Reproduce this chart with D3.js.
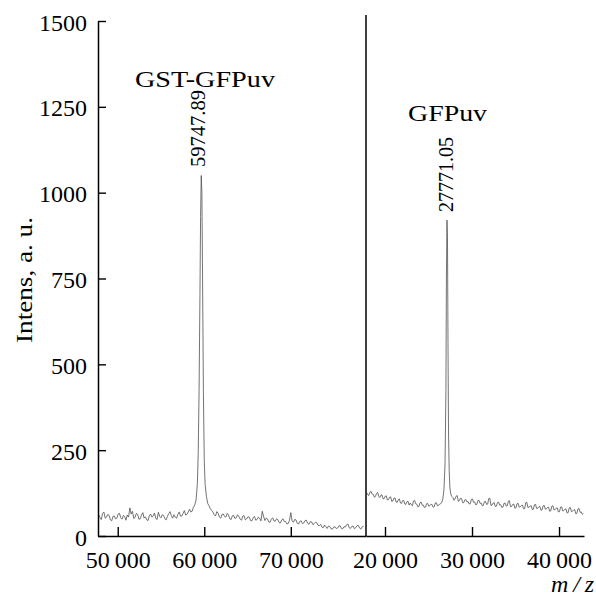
<!DOCTYPE html>
<html>
<head>
<meta charset="utf-8">
<script src="https://cdn.jsdelivr.net/npm/d3@7"></script>
<style>
  body { margin: 0; background: #fff; }
</style>
</head>
<body>
<script>
// GST-GFPuv spectrum (left panel)
var leftMz = [
  47800,47950,48100,48250,48400,48550,48700,48850,49000,49150,
  49300,49450,49600,49750,49900,50050,50200,50350,50500,50650,
  50800,50950,51100,51250,51400,51550,51700,51850,52000,52150,
  52300,52450,52600,52750,52900,53050,53200,53350,53500,53650,
  53800,53950,54100,54250,54400,54550,54700,54850,55000,55150,
  55300,55450,55600,55750,55900,56050,56200,56350,56500,56650,
  56800,56950,57100,57250,57400,57550,57700,57850,58000,58150,
  58300,58450,58600,
  58750,58900,59050,59200,59300,59400,59500,59575,59650,59725,59800,59900,60000,60100,60250,60400,60550,60700,60850,
  61000,61150,61300,61450,61600,61750,61900,62050,62200,62350,
  62500,62650,62800,62950,63100,63250,63400,63550,63700,63850,
  64000,64150,64300,64450,64600,64750,64900,65050,65200,65350,
  65500,65650,65800,65950,66100,66250,66400,66550,66700,66850,
  67000,67150,67300,67450,67600,67750,67900,68050,68200,68350,
  68500,68650,68800,68950,69100,69250,69400,69550,69700,69850,
  70000,70150,70300,70450,70600,70750,70900,71050,71200,71350,
  71500,71650,71800,71950,72100,72250,72400,72550,72700,72850,
  73000,73150,73300,73450,73600,73750,73900,74050,74200,74350,
  74500,74650,74800,74950,75100,75250,75400,75550,75700,75850,
  76000,76150,76300,76450,76600,76750,76900,77050,77200,77350,
  77500,77650,77800,77950,78100,78250,78400];
var leftIntens = [
  62,54,48,66,70,52,55,63,60,47,
  44,57,58,50,52,64,66,53,49,60,
  57,46,61,55,82,64,72,51,54,66,
  63,49,50,61,68,52,56,47,45,59,
  64,55,58,67,51,48,69,57,53,62,
  60,50,47,58,65,71,59,52,62,55,
  52,63,70,58,58,66,74,61,63,70,
  78,70,72,
  84,90,105,150,240,420,700,930,1050,1000,760,420,220,150,115,95,88,80,74,
  70,62,58,71,66,55,52,63,64,57,
  55,66,61,50,48,59,60,51,53,62,
  57,49,46,58,59,47,50,56,55,45,
  44,53,57,46,48,55,52,44,72,58,
  45,52,50,41,40,49,53,44,43,50,
  48,39,38,47,50,42,42,35,36,46,
  68,44,40,48,47,37,35,43,44,36,
  38,45,46,37,34,42,41,33,36,40,
  39,31,30,34,26,24,32,27,22,29,
  28,21,20,26,27,22,23,29,30,22,
  21,27,26,33,35,24,22,28,29,21,
  24,30,31,23,20,27,28];

// GFPuv spectrum (right panel)
var rightMz = [
  17900,18025,18150,18275,18400,18525,18650,18775,18900,19025,
  19150,19275,19400,19525,19650,19775,19900,20025,20150,20275,
  20400,20525,20650,20775,20900,21025,21150,21275,21400,21525,
  21650,21775,21900,22025,22150,22275,22400,22525,22650,22775,
  22900,23025,23150,23275,23400,23525,23650,23775,23900,24025,
  24150,24275,24400,24525,24650,24775,24900,25025,25150,25275,
  25400,25525,25650,25775,25900,26025,26150,26275,26400,
  26525,26650,26775,26900,27000,27060,27120,27180,27240,27300,27380,27460,27560,27680,
  27800,27925,28050,28175,28300,28425,28550,28675,28800,28925,
  29050,29175,29300,29425,29550,29675,29800,29925,30050,30175,
  30300,30425,30550,30675,30800,30925,31050,31175,31300,31425,
  31550,31675,31800,31925,32050,32175,32300,32425,32550,32675,
  32800,32925,33050,33175,33300,33425,33550,33675,33800,33925,
  34050,34175,34300,34425,34550,34675,34800,34925,35050,35175,
  35300,35425,35550,35675,35800,35925,36050,36175,36300,36425,
  36550,36675,36800,36925,37050,37175,37300,37425,37550,37675,
  37800,37925,38050,38175,38300,38425,38550,38675,38800,38925,
  39050,39175,39300,39425,39550,39675,39800,39925,40050,40175,
  40300,40425,40550,40675,40800,40925,41050,41175,41300,41425,
  41550,41675,41800,41925,42050,42175,42300,42425,42550,42675,
  42800];
var rightIntens = [
  126,120,118,128,130,122,121,113,115,124,
  127,116,112,119,120,108,109,116,117,105,
  106,113,114,101,102,110,111,99,98,106,
  108,96,95,103,104,93,92,100,101,90,
  96,91,88,102,104,94,93,85,86,97,
  99,90,90,83,84,94,95,87,88,92,
  92,84,85,96,97,88,89,93,94,
  98,108,135,210,420,760,920,870,560,300,190,140,122,115,
  112,104,108,116,118,101,103,110,109,97,
  97,105,106,99,100,93,94,107,108,98,
  99,91,92,103,104,95,96,88,89,100,
  101,92,93,109,110,89,90,96,97,86,
  87,97,99,90,91,83,84,95,96,87,
  88,101,103,85,86,92,93,81,82,94,
  95,84,85,89,90,79,80,97,98,83,
  84,87,88,77,78,91,92,80,81,85,
  86,75,76,88,89,78,79,83,84,72,
  73,87,88,76,77,81,82,70,71,84,
  85,73,74,78,79,67,68,82,83,71,
  72,76,77,65,66,79,80,69,70,63,
  66];

var yTicks = [0, 250, 500, 750, 1000, 1250, 1500];
var leftTicks = [50000, 60000, 70000];
var rightTicks = [20000, 30000, 40000];
var peakLabels = ["59747.89", "27771.05"];
var proteinNames = ["GST-GFPuv", "GFPuv"];

var w = 596, h = 598;
var serif = "'Liberation Serif', 'Times New Roman', serif";

var svg = d3.select("body").append("svg")
  .attr("width", w)
  .attr("height", h);

var y = d3.scaleLinear().domain([0, 1500]).range([536, 21]);
var xL = d3.scaleLinear().domain([47720, 78690]).range([98, 366]);
var xR = d3.scaleLinear().domain([17816, 42870]).range([366, 584]);

var fmt = function(d) { return d3.format(",")(d).replace(",", "\u2009"); };

// spectra
var lineL = d3.line().x(function(d, i) { return xL(leftMz[i]); }).y(function(d) { return y(d); });
var lineR = d3.line().x(function(d, i) { return xR(rightMz[i]); }).y(function(d) { return y(d); });

svg.append("path").datum(leftIntens)
  .attr("d", lineL).attr("fill", "none").attr("stroke", "#505050").attr("stroke-width", 0.8);
svg.append("path").datum(rightIntens)
  .attr("d", lineR).attr("fill", "none").attr("stroke", "#505050").attr("stroke-width", 0.8);

// axes
var yAxis = svg.append("g")
  .attr("transform", "translate(98,0)")
  .call(d3.axisLeft(y).tickValues(yTicks).tickFormat(d3.format("d")).tickSizeInner(-8).tickSizeOuter(0).tickPadding(11));

svg.append("g")
  .attr("transform", "translate(0,536)")
  .call(d3.axisBottom(xL).tickValues(leftTicks).tickFormat(fmt).tickSizeInner(-9).tickSizeOuter(0).tickPadding(15));

svg.append("g")
  .attr("transform", "translate(0,536)")
  .call(d3.axisBottom(xR).tickValues(rightTicks).tickFormat(fmt).tickSizeInner(-9).tickSizeOuter(0).tickPadding(15));

svg.selectAll(".domain").attr("stroke", "#000").attr("stroke-width", 1.5);
svg.selectAll(".tick line").attr("stroke", "#000").attr("stroke-width", 1.4);
svg.selectAll(".tick text").attr("font-size", 24).attr("fill", "#000");
yAxis.selectAll(".tick text").attr("dy", "0.38em");

// divider between the two spectra
svg.append("line")
  .attr("x1", xL.range()[1]).attr("x2", xL.range()[1])
  .attr("y1", 15).attr("y2", y(0))
  .attr("stroke", "#000").attr("stroke-width", 1.5);

// axis titles
svg.append("text")
  .attr("transform", "translate(32,280) rotate(-90)")
  .attr("text-anchor", "middle")
  .attr("font-size", 24)
  .attr("textLength", 126).attr("lengthAdjust", "spacingAndGlyphs")
  .text("Intens, a. u.");

svg.append("text")
  .attr("x", 551).attr("y", 592)
  .attr("font-size", 24)
  .attr("textLength", 43).attr("lengthAdjust", "spacing")
  .style("font-style", "italic")
  .text("m/z");

// protein names
svg.append("text")
  .attr("x", 135).attr("y", 87)
  .attr("font-size", 23)
  .attr("textLength", 140).attr("lengthAdjust", "spacingAndGlyphs")
  .text(proteinNames[0]);

svg.append("text")
  .attr("x", 408).attr("y", 121)
  .attr("font-size", 24)
  .attr("textLength", 79).attr("lengthAdjust", "spacingAndGlyphs")
  .text(proteinNames[1]);

// peak mass labels
svg.append("text")
  .attr("transform", "translate(205,167) rotate(-90)")
  .attr("font-size", 20)
  .attr("textLength", 77).attr("lengthAdjust", "spacingAndGlyphs")
  .text(peakLabels[0]);

svg.append("text")
  .attr("transform", "translate(453,212) rotate(-90)")
  .attr("font-size", 20)
  .attr("textLength", 75).attr("lengthAdjust", "spacingAndGlyphs")
  .text(peakLabels[1]);

svg.selectAll("text").style("font-family", serif).attr("fill", "#000");
</script>
</body>
</html>
